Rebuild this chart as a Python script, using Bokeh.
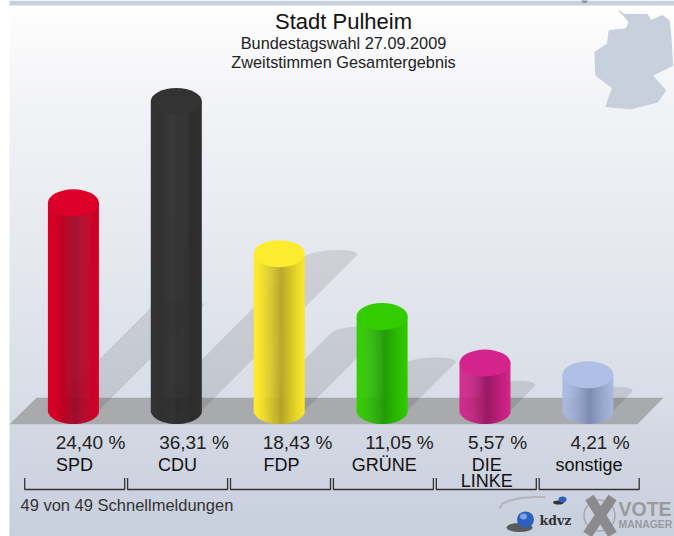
import numpy as np
from bokeh.plotting import figure
from bokeh.models import Range1d
from bokeh.core.properties import value
from bokeh.embed import file_html
from bokeh.resources import INLINE

# ---- data
parties = ["SPD", "CDU", "FDP", "GRÜNE", "DIE\nLINKE", "sonstige"]
shares = [24.40, 36.31, 18.43, 11.05, 5.57, 4.21]
share_labels = ["24,40 %", "36,31 %", "18,43 %", "11,05 %", "5,57 %", "4,21 %"]
top_colors = ["#dc0028", "#333333", "#fdeb2e", "#33cc00", "#d4238a", "#afbfe6"]
edge_colors = ["#d80028", "#333333", "#fdea2d", "#33cc00", "#d4238a", "#a9b9e0"]
core_colors = ["#9a0020", "#232323", "#b5a31e", "#1f9c00", "#981a64", "#7d8cb0"]
title_lines = ["Stadt Pulheim", "Bundestagswahl 27.09.2009", "Zweitstimmen Gesamtergebnis"]
footer = "49 von 49 Schnellmeldungen"

W, H = 674, 536
PX0, PY0 = 0, 0                # picture pixel of the figure corner
STEP, X0 = 102.9, 72.9         # px per party, px of first party
UNIT, Y0 = 8.51, 410.0         # px per percent point, px of 0 %
R = 25.5                       # cylinder radius, px
EH = 13.5                      # ellipse half height, px


def hexrgb(c):
    return np.array([int(c[i:i + 2], 16) for i in (1, 3, 5)], float)


def mix(a, b, t):
    v = hexrgb(a) * (1 - t) + hexrgb(b) * t
    return "#%02x%02x%02x" % tuple(int(round(x)) for x in v)


p = figure(width=W, height=H, output_backend="svg", toolbar_location=None,
           x_axis_type=None, y_axis_type=None, min_border=0,
           x_range=Range1d((PX0 - X0) / STEP, (PX0 + W - X0) / STEP),
           y_range=Range1d((Y0 - (PY0 + H)) / UNIT, (Y0 - PY0) / UNIT))
p.outline_line_color = None
p.background_fill_color = "#ffffff"
p.border_fill_color = "#ffffff"
p.grid.visible = False
p.extra_x_ranges = {"px": Range1d(PX0, PX0 + W)}
p.extra_y_ranges = {"py": Range1d(PY0 + H, PY0)}
PXY = dict(x_range_name="px", y_range_name="py")

# ---- background gradient
stops_y = [5, 30, 100, 268, 400, 425, 536]
stops_c = ["#ffffff", "#fbfbfc", "#f2f3f6", "#e4e7ee", "#d9dde7", "#d3d8e3", "#c8cfdd"]
ys = np.arange(4, 536, 2)
rgb = np.array([hexrgb(c) for c in stops_c])
cols = ["#%02x%02x%02x" % tuple(int(round(np.interp(y, stops_y, rgb[:, k]))) for k in range(3)) for y in ys]
p.quad(left=9, right=674, top=ys, bottom=ys + 2.6, fill_color=cols, line_color=None, **PXY)
p.quad(left=[9], right=[674], top=[0], bottom=[5], fill_color="#c8d0de", line_color=None, **PXY)
p.ellipse(x=[584], y=[0], width=[6], height=[5], fill_color="#8a8d95", line_color=None, **PXY)

# ---- floor
p.patch([9, 36, 663, 637], [423.7, 397.3, 397.3, 423.7], fill_color="#a9aaae", line_color=None, **PXY)

# ---- Germany silhouette
gx = [845, 860, 930, 940, 975, 995, 1000, 1005, 945, 985, 960, 880, 805, 825, 775, 772, 810, 815, 865, 875]
gy = [30, 42, 42, 60, 45, 60, 105, 195, 225, 270, 305, 325, 318, 262, 225, 155, 130, 90, 85, 65]
p.patch([337 + v / 3 for v in gx], [v / 3 for v in gy], fill_color="#c8cfdd", line_color="#c8cfdd", line_width=1, **PXY)

# ---- shadows: half the bar height, sheared 45 degrees to the right
rx = R / STEP
t = np.linspace(np.pi, 0, 25)
for i, v in enumerate(shares):
    off = v / 2 * UNIT / STEP
    sx = i + off + rx * np.cos(t) + 8 / STEP * np.sin(t)
    sy = v / 2 + 6 / UNIT * np.sin(t)
    xs = np.r_[i - rx, sx, i + rx]
    yy = np.r_[0, sy, 0]
    p.patch(xs, yy, fill_color="#000000", fill_alpha=0.1, line_color=None)

# ---- cylinders
n = 52
edges = np.linspace(-1, 1, n + 1)
for i, v in enumerate(shares):
    mids = (edges[:-1] + edges[1:]) / 2
    shade = (1 - np.minimum(np.abs(mids - 0.08), 1)) ** 1.35
    colors = [mix(edge_colors[i], core_colors[i], s) for s in shade]
    bottoms = -EH / UNIT * np.sqrt(np.clip(1 - mids ** 2, 0, 1))
    lefts = i + edges[:-1] * rx
    rights = np.r_[i + edges[1:-1] * rx + 0.4 / STEP, i + rx]
    p.quad(left=lefts, right=rights, top=np.full(n, v), bottom=bottoms, fill_color=colors, line_color=None)
    p.ellipse(x=[i], y=[v], width=2 * rx, height=2 * EH / UNIT, fill_color=top_colors[i], line_color=None)

FONT = value("Liberation Sans")
DARK = "#222222"


def label(x, y, s, size, color=DARK, align="left", font=FONT, style="normal"):
    # y is the wanted baseline in picture pixels; the renderer draws about 0.4 em lower
    p.text(x=[x], y=[y - 0.4 * size], text=[s], text_font=font, text_font_size=f"{size}px", text_align=align,
           text_font_style=style, text_baseline="alphabetic", text_color=color, **PXY)


# ---- titles
label(343, 30, title_lines[0], 22, "#111111", "center")
label(343, 49, title_lines[1], 16.3, DARK, "center")
label(343, 68, title_lines[2], 16.3, DARK, "center")

# ---- labels under the bars
pct_x = [90, 193.5, 297, 399, 497, 599.5]
for x, s in zip(pct_x, share_labels):
    label(x, 450, s, 19, DARK, "center")
name_x = [74, 177, 281, 383.7, 486.3, 588.5]
for x, name in zip(name_x, parties):
    for k, part in enumerate(name.split("\n")):
        label(x, 472 + 16 * k, part, 18, "#111111", "center")

# ---- brackets
bx, by = [], []
for i in range(len(parties)):
    c = 74.2 + i * STEP
    bx.append([c - 50, c - 50, c + 50, c + 50])
    by.append([477.5, 489, 489, 477.5])
p.multi_line(bx, by, line_color="#333333", line_width=1.3, **PXY)

label(20, 511, footer, 16.5, "#333333")

# ---- logos
p.line([499 + v for v in (0, 3, 10, 22, 34, 46)], [508, 503, 500, 497.5, 496.5, 496.5],
       line_color="#b4b5b9", line_width=2, **PXY)
p.ellipse(x=[519], y=[527], width=[26], height=[9], fill_color="#333333", fill_alpha=0.75, line_color=None, **PXY)
p.ellipse(x=[525], y=[519], width=[17], height=[16], fill_color="#2c60c0", line_color=None, **PXY)
p.ellipse(x=[523], y=[516], width=[7], height=[6], fill_color="#7da3e4", line_color=None, **PXY)
p.ellipse(x=[558], y=[502], width=[11], height=[4], fill_color="#333333", line_color=None, **PXY)
p.ellipse(x=[562], y=[499], width=[8], height=[6], fill_color="#2c60c0", line_color=None, **PXY)
label(539, 525, "kdvz", 12.5, "#333333", font=value("DejaVu Serif"), style="bold")
p.ellipse(x=[599], y=[515], width=[31], height=[31], fill_color=None, line_color="#a8a8ac", line_width=1.5, **PXY)
p.segment(x0=[589, 612], y0=[497, 497], x1=[612, 587], y1=[534, 534],
          line_color="#8b8b8d", line_width=10, **PXY)
label(618, 516, "VOTE", 19.5, "#9a9a9c", style="bold")
label(618, 528, "MANAGER", 10.4, "#9a9a9c", style="bold")

open("out.html", "w").write(file_html(p, INLINE))
